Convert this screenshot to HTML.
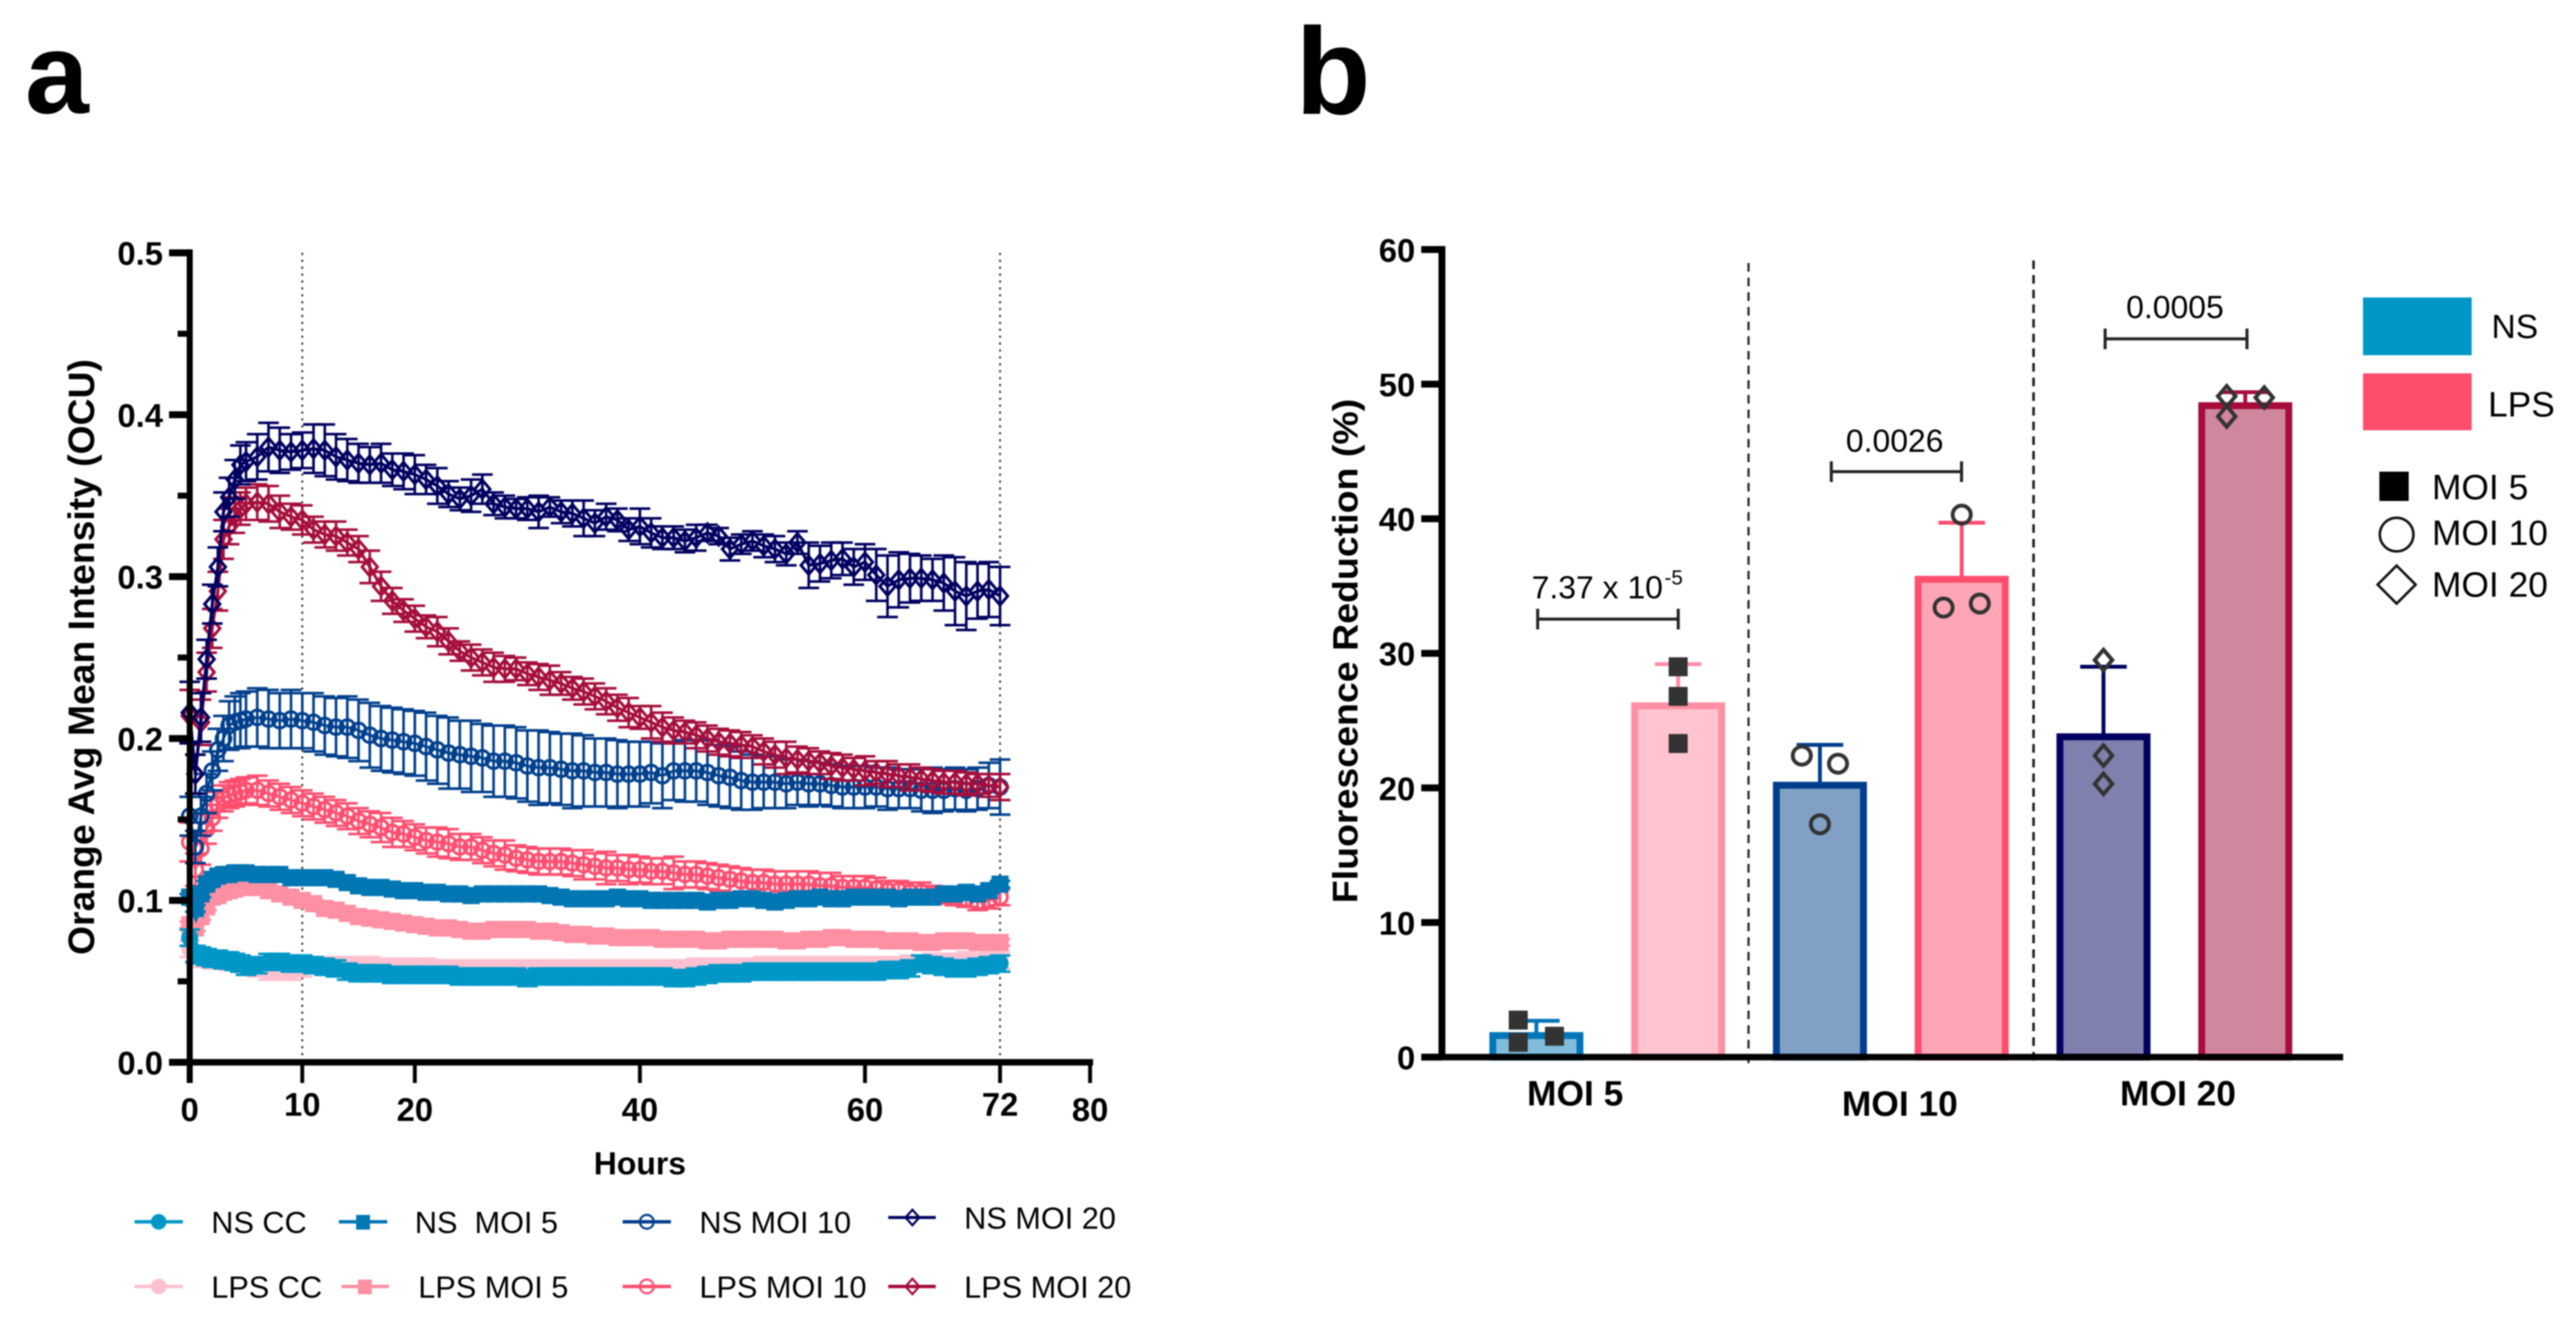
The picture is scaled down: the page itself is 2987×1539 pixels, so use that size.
<!DOCTYPE html>
<html lang="en">
<head>
<meta charset="utf-8">
<title>Fluorescence time course and reduction by MOI</title>
<style>
  html, body { margin: 0; padding: 0; background: #fff; }
  #figure { display: block; width: 2987px; height: 1539px; filter: blur(0.8px); }
  text { font-family: "Liberation Sans", Arial, sans-serif; fill: #000; white-space: pre; }
  .bold { font-weight: 700; }
</style>
</head>
<body>
<svg id="figure" xmlns="http://www.w3.org/2000/svg" width="2987" height="1539" viewBox="0 0 2987 1539">
  <rect x="0" y="0" width="2987" height="1539" fill="#fff"/>

  <text class="bold" x="29" y="131" font-size="133">a</text>
  <text class="bold" x="1502" y="132" font-size="143">b</text>

  <g id="panel-a">
    <text class="bold" transform="translate(109,762) rotate(-90)" text-anchor="middle" font-size="43" textLength="691" lengthAdjust="spacingAndGlyphs">Orange Avg Mean Intensity (OCU)</text>
    <text class="bold" x="742" y="1362" text-anchor="middle" font-size="37">Hours</text>
  </g>

  <g id="legend-a" font-size="35.6">
    <g>
      <line x1="156" x2="212" y1="1417" y2="1417" stroke="#0097c7" stroke-width="4"/>
      <circle cx="184" cy="1417" r="9" fill="#0097c7"/>
      <text x="245" y="1430">NS CC</text>
    </g>
    <g>
      <line x1="393" x2="449" y1="1417" y2="1417" stroke="#0076b3" stroke-width="4"/>
      <rect x="413" y="1409" width="16" height="17" fill="#0076b3"/>
      <text x="481" y="1430">NS  MOI 5</text>
    </g>
    <g>
      <line x1="722" x2="778" y1="1417" y2="1417" stroke="#003f8c" stroke-width="4"/>
      <circle cx="750" cy="1417" r="8" fill="none" stroke="#003f8c" stroke-width="2.5"/>
      <text x="811" y="1430">NS MOI 10</text>
    </g>
    <g>
      <line x1="1030" x2="1085" y1="1412" y2="1412" stroke="#000060" stroke-width="3.5"/>
      <path d="M1058 1403l8 9l-8 9l-8 -9z" fill="none" stroke="#000060" stroke-width="2.5"/>
      <text x="1118" y="1425">NS MOI 20</text>
    </g>
    <g>
      <line x1="156" x2="212" y1="1492" y2="1492" stroke="#ffc0cf" stroke-width="4"/>
      <circle cx="184" cy="1492" r="9" fill="#ffc0cf"/>
      <text x="245" y="1505">LPS CC</text>
    </g>
    <g>
      <line x1="396" x2="451" y1="1492" y2="1492" stroke="#ff8fa3" stroke-width="4"/>
      <rect x="415" y="1484" width="16" height="17" fill="#ff8fa3"/>
      <text x="485" y="1505">LPS MOI 5</text>
    </g>
    <g>
      <line x1="722" x2="778" y1="1492" y2="1492" stroke="#ff4d6e" stroke-width="4"/>
      <circle cx="750" cy="1492" r="8" fill="none" stroke="#ff4d6e" stroke-width="2.5"/>
      <text x="811" y="1505">LPS MOI 10</text>
    </g>
    <g>
      <line x1="1030" x2="1085" y1="1492" y2="1492" stroke="#a50e3c" stroke-width="4"/>
      <path d="M1058 1483l8 9l-8 9l-8 -9z" fill="none" stroke="#a50e3c" stroke-width="2.5"/>
      <text x="1118" y="1505">LPS MOI 20</text>
    </g>
  </g>

  <g id="panel-b">
    <text class="bold" transform="translate(1574,755) rotate(-90)" text-anchor="middle" font-size="41" textLength="585" lengthAdjust="spacingAndGlyphs">Fluorescence Reduction (%)</text>
    <line x1="2027.5" x2="2027.5" y1="305" y2="1238" stroke="#222" stroke-width="2.5" stroke-dasharray="10 7"/>
    <line x1="2358" x2="2358" y1="302" y2="1234" stroke="#222" stroke-width="3" stroke-dasharray="10 7"/>

    <g>
      <path d="M1783 706v24M1783 718H1946M1946 706v24" fill="none" stroke="#222" stroke-width="3.5"/>
      <text x="1776" y="694" font-size="37">7.37 x 10</text>
      <text x="1930" y="678" font-size="24">-5</text>
    </g>
    <g>
      <path d="M2123.5 535v24M2123.5 547H2274.5M2274.5 535v24" fill="none" stroke="#222" stroke-width="3.5"/>
      <text x="2197" y="524" text-anchor="middle" font-size="37">0.0026</text>
    </g>
    <g>
      <path d="M2441 381v24M2441 393H2605.5M2605.5 381v24" fill="none" stroke="#222" stroke-width="3.5"/>
      <text x="2522" y="369" text-anchor="middle" font-size="37">0.0005</text>
    </g>
  </g>

  <g id="legend-b">
    <rect x="2740" y="345" width="126" height="67" fill="#0097c7"/>
    <text x="2889" y="392" font-size="39">NS</text>
    <rect x="2740" y="433" width="126" height="66" fill="#ff4d6e"/>
    <text x="2885" y="483" font-size="41">LPS</text>
    <rect x="2759" y="547" width="34" height="34" fill="#000"/>
    <text x="2820" y="579" font-size="41">MOI 5</text>
    <circle cx="2779" cy="620" r="19.5" fill="none" stroke="#111" stroke-width="3"/>
    <text x="2820" y="632" font-size="41">MOI 10</text>
    <path d="M2779 656l22 22l-22 22l-22 -22z" fill="none" stroke="#111" stroke-width="3"/>
    <text x="2820" y="692" font-size="41">MOI 20</text>
  </g>
</svg>

<script>
/* ---------- Panel a: time course ---------- */
const hours = [0,0.5,1,1.5,2,2.5,3,3.5,4,4.5,5,
  6,7,8,9,10,11,12,13,14,15,16,17,18,19,
  20,21,22,23,24,25,26,27,28,29,
  30,31,32,33,34,35,36,37,38,39,
  40,41,42,43,44,45,46,47,48,49,
  50,51,52,53,54,55,56,57,58,59,
  60,61,62,63,64,65,66,67,68,69,
  70,71,72];

const nsMoi20Values = [.216,.178,.213,.249,.283,.306,.340,.349,.360,.369,.371,
  .374,.380,.378,.377,.378,.379,.378,.374,.372,.370,.369,.370,.366,.365,
  .363,.360,.356,.351,.348,.350,.354,.345,.343,.342,
  .342,.340,.343,.340,.339,.336,.333,.337,.335,.329,
  .331,.327,.324,.324,.322,.324,.327,.325,.317,.320,
  .322,.319,.317,.314,.321,.307,.308,.310,.311,.306,
  .309,.301,.294,.298,.299,.299,.298,.296,.291,.288,
  .291,.292,.288];
const nsMoi20Errors = [.019,.012,.015,.012,.012,.012,.012,.012,.012,.012,.012,
  .014,.015,.014,.011,.011,.015,.016,.014,.013,.012,.011,.012,.010,.011,
  .012,.009,.011,.008,.007,.010,.009,.007,.007,.006,
  .007,.010,.006,.007,.008,.011,.008,.008,.007,.007,
  .011,.009,.007,.007,.007,.008,.005,.005,.007,.006,
  .006,.007,.008,.007,.007,.014,.011,.011,.010,.011,
  .011,.016,.019,.017,.015,.014,.013,.017,.021,.021,
  .017,.017,.018];

const lpsMoi20Values = [.214,.178,.210,.241,.268,.291,.323,.331,.338,.342,.345,
  .346,.345,.340,.337,.335,.329,.326,.325,.321,.317,.306,.294,.285,.279,
  .274,.269,.266,.260,.254,.250,.247,.244,.243,.243,
  .240,.238,.236,.234,.231,.229,.226,.223,.219,.216,
  .213,.210,.207,.205,.204,.202,.200,.198,.197,.196,
  .195,.192,.190,.188,.187,.186,.185,.183,.182,.181,
  .180,.179,.178,.177,.176,.175,.174,.173,.173,.172,
  .172,.171,.170];
const lpsMoi20Errors = [.016,.012,.014,.012,.012,.012,.012,.011,.011,.010,.010,
  .011,.011,.010,.008,.009,.008,.008,.009,.008,.008,.010,.009,.008,.007,
  .008,.007,.009,.008,.006,.008,.008,.009,.008,.007,
  .007,.008,.009,.007,.007,.008,.008,.008,.008,.009,
  .007,.010,.009,.008,.007,.008,.008,.008,.008,.008,
  .007,.008,.008,.010,.008,.008,.007,.008,.008,.007,
  .009,.007,.008,.007,.008,.007,.007,.007,.007,.007,
  .006,.007,.008];

const nsMoi10Values = [.152,.133,.152,.166,.180,.193,.200,.208,.210,.211,.212,
  .213,.212,.211,.212,.211,.210,.208,.207,.207,.205,.202,.200,.199,.198,
  .197,.195,.193,.191,.190,.189,.188,.186,.186,.185,
  .183,.182,.182,.181,.180,.180,.179,.179,.178,.178,
  .178,.179,.177,.180,.180,.180,.179,.177,.176,.174,
  .173,.173,.173,.172,.173,.172,.172,.171,.170,.170,
  .170,.170,.169,.169,.169,.168,.168,.168,.169,.168,
  .169,.171,.170];
const nsMoi10Errors = [.012,.010,.012,.012,.012,.013,.014,.015,.016,.017,.017,
  .018,.018,.017,.018,.017,.018,.018,.018,.019,.019,.020,.020,.020,.020,
  .020,.021,.021,.022,.021,.022,.021,.022,.022,.022,
  .022,.023,.022,.022,.023,.022,.021,.021,.021,.020,
  .020,.019,.020,.018,.019,.019,.020,.019,.019,.018,
  .017,.016,.016,.015,.014,.014,.013,.013,.013,.013,
  .013,.012,.013,.012,.012,.013,.014,.013,.013,.013,
  .013,.014,.017];

const lpsMoi10Values = [.136,.119,.132,.144,.151,.159,.163,.165,.166,.167,.168,
  .168,.166,.164,.162,.160,.158,.156,.154,.152,.149,.147,.145,.142,.141,
  .139,.137,.136,.135,.133,.133,.131,.129,.128,.126,
  .125,.124,.124,.124,.123,.122,.121,.120,.120,.119,
  .119,.118,.118,.117,.116,.116,.115,.114,.113,.112,
  .111,.111,.110,.110,.110,.110,.109,.109,.108,.108,
  .108,.107,.106,.106,.105,.105,.104,.103,.102,.101,
  .099,.100,.102];
const lpsMoi10Errors = [.012,.010,.010,.009,.008,.008,.008,.008,.008,.008,.008,
  .009,.008,.008,.008,.008,.008,.008,.008,.008,.008,.008,.009,.009,.008,
  .008,.008,.009,.009,.008,.008,.008,.008,.009,.008,
  .008,.008,.008,.008,.008,.009,.008,.010,.008,.009,
  .008,.008,.008,.010,.008,.008,.008,.008,.008,.008,
  .008,.008,.008,.008,.008,.008,.008,.008,.007,.007,
  .007,.007,.006,.006,.006,.006,.005,.005,.005,.005,
  .005,.005,.005];

const nsMoi5Values = [.102,.095,.104,.110,.113,.115,.116,.116,.117,.117,.117,
  .116,.116,.116,.114,.114,.114,.114,.113,.111,.109,.108,.108,.107,.106,
  .106,.105,.105,.104,.104,.103,.104,.104,.104,.104,
  .104,.104,.103,.102,.101,.101,.101,.101,.102,.101,
  .101,.100,.100,.100,.100,.100,.099,.100,.100,.101,
  .101,.100,.099,.100,.101,.101,.102,.101,.101,.102,
  .102,.102,.102,.101,.102,.102,.102,.104,.104,.105,
  .104,.106,.110];
const nsMoi5Error = 0.002;

const lpsMoi5Values = [.085,.083,.090,.096,.102,.103,.105,.106,.107,.108,.108,
  .108,.106,.104,.102,.100,.098,.095,.094,.092,.090,.089,.088,.087,.086,
  .085,.084,.083,.083,.082,.081,.081,.082,.082,.082,
  .082,.081,.081,.080,.079,.079,.078,.078,.077,.077,
  .077,.077,.076,.076,.076,.076,.075,.075,.076,.076,
  .076,.076,.076,.075,.075,.076,.076,.077,.077,.076,
  .076,.076,.075,.075,.075,.074,.074,.075,.075,.075,
  .074,.074,.074];
const lpsMoi5Error = 0.002;

const nsCcValues = [.077,.067,.066,.065,.064,.064,.063,.063,.062,.061,.059,
  .060,.062,.062,.061,.061,.060,.059,.058,.056,.055,.055,.055,.054,.054,
  .054,.054,.054,.054,.053,.053,.053,.053,.053,.053,
  .052,.053,.053,.053,.053,.053,.053,.053,.053,.053,
  .053,.053,.053,.052,.052,.053,.054,.055,.055,.055,
  .056,.056,.056,.056,.056,.056,.056,.056,.056,.056,
  .056,.056,.057,.057,.058,.061,.060,.059,.058,.058,
  .059,.060,.061];
const nsCcError = 0.005;

const lpsCcValues = [.070,.066,.064,.064,.063,.063,.063,.062,.062,.061,.060,
  .058,.056,.056,.056,.058,.060,.060,.060,.060,.060,.060,.059,.059,.059,
  .059,.059,.058,.058,.058,.058,.058,.058,.058,.058,
  .058,.058,.058,.058,.058,.058,.058,.058,.058,.058,
  .058,.058,.058,.058,.058,.059,.059,.059,.059,.059,
  .059,.060,.060,.060,.060,.060,.060,.060,.060,.060,
  .060,.060,.060,.060,.061,.061,.062,.062,.062,.063,
  .062,.063,.063];
const lpsCcError = 0.005;

const aYMajorTicks = [0, 0.1, 0.2, 0.3, 0.4, 0.5];
const aYMajorLabels = ['0.0', '0.1', '0.2', '0.3', '0.4', '0.5'];
const aYMinorTicks = [0.05, 0.15, 0.25, 0.35, 0.45];
const aXTicks = [0, 10, 20, 40, 60, 72, 80];
const aXLabels = ['0', '10', '20', '40', '60', '72', '80'];
const aReferenceHours = [10, 72];

/* ---------- Panel b: bars ---------- */
const barCategories = ['NS MOI 5', 'LPS MOI 5', 'NS MOI 10', 'LPS MOI 10', 'NS MOI 20', 'LPS MOI 20'];
const barValues = [1.6, 26.1, 20.2, 35.5, 23.8, 48.4];
const barErrors = [1.1, 3.1, 3.0, 4.2, 5.2, 1.0];
const barReplicates = [
  [2.75, 1.1, 1.55],
  [29, 26.8, 23.3],
  [22.4, 21.8, 17.3],
  [40.3, 33.4, 33.7],
  [29.5, 22.4, 20.3],
  [49.1, 47.6, 49]
];
const bYTicks = [0, 10, 20, 30, 40, 50, 60];
const bYLabels = ['0', '10', '20', '30', '40', '50', '60'];
const bGroupLabels = ['MOI 5', 'MOI 10', 'MOI 20'];

/* ---------- Scales and styling ---------- */
const xA = function (h) { return 220 + 13.05 * h; };
const yA = function (v) { return 1232 - 1877.6 * v; };
const xB = function (i) { return 1781.5 + 164.4 * i; };
const yB = function (v) { return 1226 - 15.61 * v; };

const barStrokes = ['#0076b8', '#ff8fa3', '#003d8a', '#ff4d6e', '#000060', '#a60d3c'];
const barFills = ['#82bcdc', '#ffc4d0', '#80a0c5', '#ffa6b6', '#8080ae', '#d0869c'];
const replicateShapes = ['square', 'square', 'circle', 'circle', 'diamond', 'diamond'];
const replicateJitterPx = [[-21, -21, 21], [0, 0, 0], [-21, 21, 0], [0, -21, 21], [0, 0, 0], [-21.5, -21.5, 22]];
const groupLabelCenters = [1826.5, 2203, 2525.5];
const groupLabelBaselines = [1282, 1294, 1282];

const SVG_NS = 'http://www.w3.org/2000/svg';
function make(tag, attrs, parent) {
  const node = document.createElementNS(SVG_NS, tag);
  Object.keys(attrs).forEach(function (k) { node.setAttribute(k, attrs[k]); });
  parent.appendChild(node);
  return node;
}

const panelA = document.getElementById('panel-a');
const panelB = document.getElementById('panel-b');

/* reference lines */
aReferenceHours.forEach(function (h) {
  const el = make('line', { x1: xA(h), x2: xA(h), y1: yA(0.5), y2: yA(0), stroke: '#333', 'stroke-width': 2.2, 'stroke-dasharray': '2.5 5.5' }, panelA);
  
  
});

/* series */
const seriesList = [
  { key: 'lps-moi-10', values: lpsMoi10Values, errors: lpsMoi10Errors, color: '#ff4d6e', shape: 'circle', size: 8.5, open: true, lineWidth: 3 },
  { key: 'lps-moi-5', values: lpsMoi5Values, errors: lpsMoi5Error, color: '#ff8fa3', shape: 'square', size: 10, open: false, lineWidth: 14 },
  { key: 'lps-cc', values: lpsCcValues, errors: lpsCcError, color: '#ffc0cf', shape: 'circle', size: 10, open: false, lineWidth: 14 },
  { key: 'ns-moi-5', values: nsMoi5Values, errors: nsMoi5Error, color: '#0076b3', shape: 'square', size: 10, open: false, lineWidth: 14 },
  { key: 'ns-cc', values: nsCcValues, errors: nsCcError, color: '#0097c7', shape: 'circle', size: 10, open: false, lineWidth: 14 },
  { key: 'ns-moi-10', values: nsMoi10Values, errors: nsMoi10Errors, color: '#003f8c', shape: 'circle', size: 8.5, open: true, lineWidth: 3 },
  { key: 'lps-moi-20', values: lpsMoi20Values, errors: lpsMoi20Errors, color: '#a50e3c', shape: 'diamond', size: 10.5, open: true, lineWidth: 3.5 },
  { key: 'ns-moi-20', values: nsMoi20Values, errors: nsMoi20Errors, color: '#000060', shape: 'diamond', size: 10.5, open: true, lineWidth: 3.5 }
];

function drawMarker(parent, shape, cx, cy, size, fill, stroke, strokeWidth) {
  const style = { fill: fill, stroke: stroke, 'stroke-width': strokeWidth };
  if (shape === 'circle') {
    return make('circle', Object.assign({ cx: cx, cy: cy, r: size }, style), parent);
  }
  if (shape === 'square') {
    return make('rect', Object.assign({ x: cx - size, y: cy - size, width: 2 * size, height: 2 * size }, style), parent);
  }
  const d = 'M' + cx + ' ' + (cy - size) + 'L' + (cx + size * 0.85) + ' ' + cy + 'L' + cx + ' ' + (cy + size) + 'L' + (cx - size * 0.85) + ' ' + cy + 'Z';
  return make('path', Object.assign({ d: d }, style), parent);
}

seriesList.forEach(function (s) {
  const group = make('g', {}, panelA);
  
  

  const pts = hours.map(function (h, i) { return xA(h) + ',' + yA(s.values[i]); }).join(' ');
  const line = make('polyline', { points: pts, fill: 'none', stroke: s.color, 'stroke-width': s.lineWidth }, group);
  
  

  hours.forEach(function (h, i) {
    const err = Array.isArray(s.errors) ? s.errors[i] : s.errors;
    const x = xA(h);
    const top = yA(s.values[i] + err);
    const bottom = yA(s.values[i] - err);
    const bar = make('path', {
      d: 'M' + x + ' ' + top + 'V' + bottom + 'M' + (x - 12) + ' ' + top + 'H' + (x + 12) + 'M' + (x - 12) + ' ' + bottom + 'H' + (x + 12),
      fill: 'none', stroke: s.color, 'stroke-width': 3
    }, group);
    
    
  });

  hours.forEach(function (h, i) {
    const marker = drawMarker(group, s.shape, xA(h), yA(s.values[i]), s.size, s.open ? 'none' : s.color, s.open ? s.color : 'none', s.open ? 3.4 : 0);
    
    
  });
});

/* panel a axes */
const aAxisY = make('line', { x1: xA(0), x2: xA(0), y1: yA(0.5) - 4, y2: 1256, stroke: '#000', 'stroke-width': 7 }, panelA);



const aAxisX = make('line', { x1: 196, x2: 1267.5, y1: yA(0), y2: yA(0), stroke: '#000', 'stroke-width': 7.5 }, panelA);



aYMajorTicks.forEach(function (v, i) {
  const tick = make('line', { x1: 196, x2: 220, y1: yA(v), y2: yA(v), stroke: '#000', 'stroke-width': 8 }, panelA);
  
  
  const label = make('text', { x: 189, y: yA(v) + 14, 'text-anchor': 'end', 'font-size': 38, class: 'bold' }, panelA);
  label.textContent = aYMajorLabels[i];
  
  
});

aYMinorTicks.forEach(function (v) {
  const tick = make('line', { x1: 206, x2: 220, y1: yA(v), y2: yA(v), stroke: '#000', 'stroke-width': 7 }, panelA);
  
  
});

aXTicks.forEach(function (h, i) {
  const tick = make('line', { x1: xA(h), x2: xA(h), y1: yA(0), y2: 1256, stroke: '#000', 'stroke-width': 4.5 }, panelA);
  
  
  const raised = aReferenceHours.indexOf(h) >= 0;
  const label = make('text', { x: xA(h), y: raised ? 1294 : 1300, 'text-anchor': 'middle', 'font-size': 38, class: 'bold' }, panelA);
  label.textContent = aXLabels[i];
  
  
});

/* panel b bars */
barCategories.forEach(function (name, i) {
  const cx = xB(i);
  const group = make('g', {}, panelB);
  
  

  const top = yB(barValues[i]);
  const errTop = yB(barValues[i] + barErrors[i]);

  const stem = make('path', { d: 'M' + cx + ' ' + top + 'V' + errTop + 'M' + (cx - 27) + ' ' + errTop + 'H' + (cx + 27), fill: 'none', stroke: barStrokes[i], 'stroke-width': 4.5 }, group);
  
  

  const bar = make('rect', { x: cx - 50.5, y: top, width: 101, height: yB(0) - top, fill: barFills[i], stroke: barStrokes[i], 'stroke-width': 8 }, group);
  
  

  barReplicates[i].forEach(function (v, j) {
    const x = cx + replicateJitterPx[i][j];
    const shape = replicateShapes[i];
    const dot = shape === 'square'
      ? drawMarker(group, 'square', x, yB(v), 11, '#333', 'none', 0)
      : drawMarker(group, shape, x, yB(v), shape === 'circle' ? 10.5 : 12, 'none', '#333', 4.5);
    
    
  });
});

/* panel b axes */
const bAxisY = make('line', { x1: 1672, x2: 1672, y1: yB(60) - 4, y2: yB(0) + 3, stroke: '#000', 'stroke-width': 8 }, panelB);



const bAxisX = make('line', { x1: 1648, x2: 2717, y1: yB(0), y2: yB(0), stroke: '#000', 'stroke-width': 7.5 }, panelB);



bYTicks.forEach(function (v, i) {
  const tick = make('line', { x1: 1648, x2: 1672, y1: yB(v), y2: yB(v), stroke: '#000', 'stroke-width': 8 }, panelB);
  
  
  const label = make('text', { x: 1641, y: yB(v) + 14, 'text-anchor': 'end', 'font-size': 38, class: 'bold' }, panelB);
  label.textContent = bYLabels[i];
  
  
});

bGroupLabels.forEach(function (text, i) {
  const label = make('text', { x: groupLabelCenters[i], y: groupLabelBaselines[i], 'text-anchor': 'middle', 'font-size': 41, class: 'bold' }, panelB);
  label.textContent = text;
  
  
});
</script>
</body>
</html>
